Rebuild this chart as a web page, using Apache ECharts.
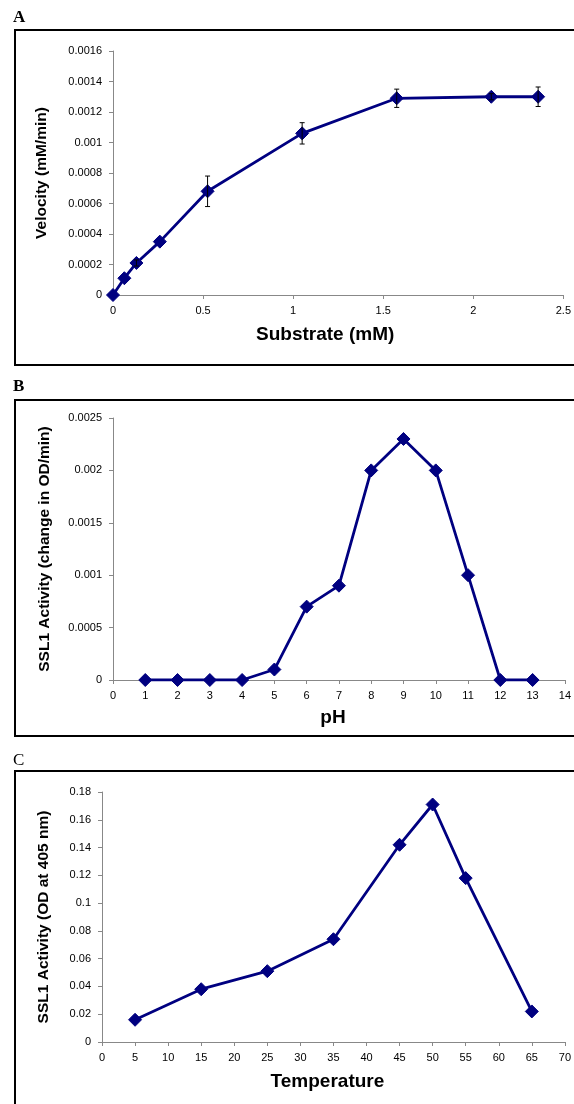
<!DOCTYPE html>
<html>
<head>
<meta charset="utf-8">
<script src="https://cdn.jsdelivr.net/npm/echarts@6/dist/echarts.min.js"></script>
<style>
html,body{margin:0;padding:0;background:#fff;}
#chart{width:574px;height:1104px;}
</style>
</head>
<body>
<div id="chart"></div>
<script>
// Panel A: substrate kinetics
const substrate = [0, 0.063, 0.13, 0.26, 0.525, 1.05, 1.575, 2.1, 2.36];
const velocity = [0, 0.00011, 0.00021, 0.00035, 0.00068, 0.00106, 0.00129, 0.0013, 0.0013];
const velocityErr = [0, 0, 0.00002, 0, 0.0001, 0.00007, 0.00006, 0.00002, 0.000064];
// Panel B: pH profile
const pH = [1, 2, 3, 4, 5, 6, 7, 8, 9, 10, 11, 12, 13];
const pHActivity = [0, 0, 0, 0, 0.0001, 0.0007, 0.0009, 0.002, 0.0023, 0.002, 0.001, 0, 0];
// Panel C: temperature profile
const temperature = [5, 15, 25, 35, 45, 50, 55, 65];
const tempActivity = [0.016, 0.038, 0.051, 0.074, 0.142, 0.171, 0.118, 0.022];

const SANS = 'Liberation Sans, Arial, sans-serif';
const SERIF = 'Liberation Serif, Times New Roman, serif';
const LINE = '#000080';

function xAxis(idx, min, max, interval, name, gap, shift) {
  return {
    type: 'value', gridIndex: idx, min: min, max: max, interval: interval,
    name: name, nameLocation: 'middle', nameGap: gap,
    nameTextStyle: {fontFamily: SANS, fontWeight: 'bold', fontSize: 19, color: '#000',
      padding: [0, shift * 2, 0, 0]},
    axisLine: {show: true, onZero: false, lineStyle: {color: '#888', width: 1}},
    axisTick: {show: true, inside: false, length: 4, lineStyle: {color: '#888'}},
    axisLabel: {fontFamily: SANS, fontSize: 11, color: '#000', margin: 10},
    splitLine: {show: false}
  };
}
function yAxis(idx, min, max, interval, name, gap) {
  return {
    type: 'value', gridIndex: idx, min: min, max: max, interval: interval,
    name: name, nameLocation: 'middle', nameGap: gap, nameRotate: 90,
    nameTextStyle: {fontFamily: SANS, fontWeight: 'bold', fontSize: 15.5, color: '#000'},
    axisLine: {show: true, lineStyle: {color: '#888', width: 1}},
    axisTick: {show: true, inside: false, length: 4, lineStyle: {color: '#888'}},
    axisLabel: {fontFamily: SANS, fontSize: 11, color: '#000', margin: 11},
    splitLine: {show: false}
  };
}
function lineSeries(idx, xs, ys) {
  return {
    type: 'line', xAxisIndex: idx, yAxisIndex: idx,
    data: xs.map((x, i) => [x, ys[i]]),
    symbol: 'diamond', symbolSize: [13, 13],
    lineStyle: {color: LINE, width: 2.8},
    itemStyle: {color: LINE, borderColor: LINE},
    animation: false, z: 3
  };
}

const chart = echarts.init(document.getElementById('chart'), null, {renderer: 'canvas'});
chart.setOption({
  backgroundColor: '#fff',
  animation: false,
  grid: [
    {left: 113, top: 51, width: 453, height: 244},
    {left: 113, top: 418, width: 455, height: 262},
    {left: 102, top: 792, width: 463, height: 250}
  ],
  xAxis: [
    xAxis(0, 0, 2.5, 0.5, 'Substrate (mM)', 30, 13),
    xAxis(1, 0, 14, 1, 'pH', 28, 6),
    xAxis(2, 0, 70, 5, 'Temperature', 30, 6)
  ],
  yAxis: [
    yAxis(0, 0, 0.0016, 0.0002, 'Velocity (mM/min)', 63),
    yAxis(1, 0, 0.0025, 0.0005, 'SSL1 Activity (change in OD/min)', 60),
    yAxis(2, 0, 0.18, 0.02, 'SSL1 Activity (OD at 405 nm)', 50)
  ],
  graphic: [
    {type: 'rect', shape: {x: 15, y: 30, width: 640, height: 335}, style: {fill: 'none', stroke: '#000', lineWidth: 2}},
    {type: 'rect', shape: {x: 15, y: 400, width: 640, height: 336}, style: {fill: 'none', stroke: '#000', lineWidth: 2}},
    {type: 'rect', shape: {x: 15, y: 771, width: 640, height: 400}, style: {fill: 'none', stroke: '#000', lineWidth: 2}},
    {type: 'text', left: 13, top: 9, style: {text: 'A', font: 'bold 17px ' + SERIF, fill: '#000'}},
    {type: 'text', left: 13, top: 378, style: {text: 'B', font: 'bold 17px ' + SERIF, fill: '#000'}},
    {type: 'text', left: 13, top: 752, style: {text: 'C', font: '17px ' + SERIF, fill: '#000'}}
  ],
  series: [
    lineSeries(0, substrate, velocity),
    {
      type: 'custom', xAxisIndex: 0, yAxisIndex: 0, z: 4,
      data: substrate.map((x, i) => [x, velocity[i], velocityErr[i]]),
      renderItem: function (params, api) {
        const x = api.value(0), y = api.value(1), e = api.value(2);
        if (!e) return null;
        const top = api.coord([x, y + e]);
        const bot = api.coord([x, y - e]);
        const st = {stroke: '#000', lineWidth: 1};
        return {type: 'group', children: [
          {type: 'line', shape: {x1: top[0], y1: top[1], x2: bot[0], y2: bot[1]}, style: st},
          {type: 'line', shape: {x1: top[0] - 2.5, y1: top[1], x2: top[0] + 2.5, y2: top[1]}, style: st},
          {type: 'line', shape: {x1: bot[0] - 2.5, y1: bot[1], x2: bot[0] + 2.5, y2: bot[1]}, style: st}
        ]};
      },
      animation: false
    },
    lineSeries(1, pH, pHActivity),
    lineSeries(2, temperature, tempActivity)
  ]
});
</script>
</body>
</html>
